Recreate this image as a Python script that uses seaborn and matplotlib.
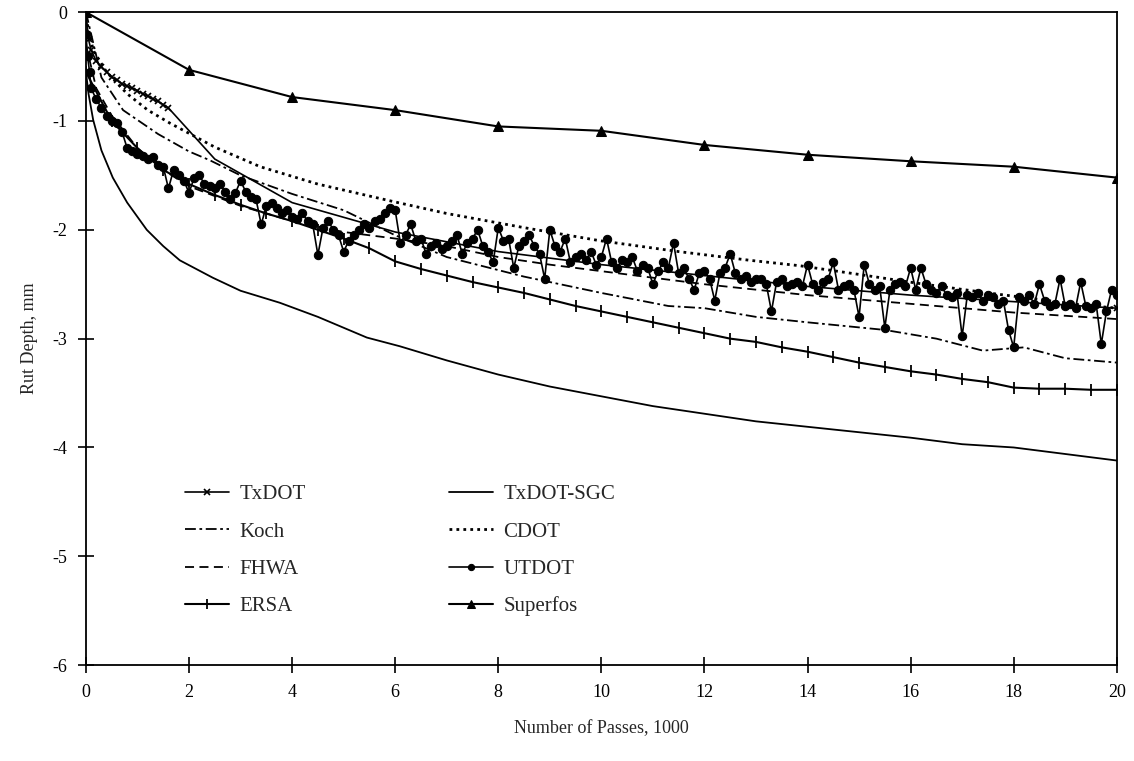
import numpy as np
import pandas as pd
import seaborn as sns
import matplotlib
matplotlib.use("Agg")
import matplotlib.pyplot as plt

# values (x in 1000 passes, rut depth in mm)
superfos_x = [0, 2, 4, 6, 8, 10, 12, 14, 16, 18, 20]
superfos_y = [0, -0.53, -0.78, -0.90, -1.05, -1.09, -1.22, -1.31, -1.37, -1.42, -1.52]

sgc_x = [0, 0.05, 0.14, 0.3, 0.52, 0.8, 1.18, 1.5, 1.82, 2.46, 3.0, 3.76, 4.5, 5.45, 6.09, 7, 8, 9, 10,
         11, 12, 13, 14, 15, 16, 17, 18, 19, 20]
sgc_y = [-0.55, -0.75, -0.99, -1.27, -1.52, -1.75, -2.0, -2.15, -2.28, -2.44, -2.56, -2.67, -2.8, -2.99,
         -3.07, -3.2, -3.33, -3.44, -3.53, -3.62, -3.69, -3.76, -3.81, -3.86, -3.91, -3.97, -4.0, -4.06, -4.12]

ersa_x = [0, 0.5, 1.0, 1.5, 2.0, 2.5, 3.0, 3.5, 4.0, 4.5, 5.0, 5.5, 6.0, 6.5, 7.0, 7.5, 8.0, 8.5, 9.0,
          9.5, 10.0, 10.5, 11.0, 11.5, 12.0, 12.5, 13.0, 13.5, 14.0, 14.5, 15.0, 15.5, 16.0, 16.5, 17.0,
          17.5, 18.0, 18.5, 19.0, 19.5, 20.0]
ersa_y = [-0.55, -1.0, -1.25, -1.45, -1.58, -1.68, -1.77, -1.85, -1.92, -2.0, -2.08, -2.17, -2.29, -2.36,
          -2.42, -2.48, -2.53, -2.58, -2.64, -2.70, -2.75, -2.80, -2.85, -2.90, -2.95, -3.00, -3.03, -3.08,
          -3.12, -3.17, -3.22, -3.26, -3.30, -3.33, -3.37, -3.40, -3.45, -3.46, -3.46, -3.47, -3.47]

cdot_x = [0, 0.14, 0.4, 0.8, 1.2, 1.63, 2.5, 3.38, 4.5, 5.96, 7, 8.5, 9.97, 11.5, 12.88, 13.85, 15, 16.12,
          17.5, 19.34, 20]
cdot_y = [-0.05, -0.35, -0.55, -0.75, -0.9, -1.02, -1.24, -1.42, -1.58, -1.74, -1.85, -1.98, -2.10, -2.2,
          -2.28, -2.33, -2.41, -2.49, -2.58, -2.69, -2.72]

koch_x = [0, 0.3, 0.72, 1.4, 2.0, 2.4, 3.0, 4.0, 5.0, 6.0, 7.0, 8.5, 10.0, 11.3, 12.0, 13.0, 14.0, 15.5,
          16.5, 17.4, 18.2, 19.0, 20.0]
koch_y = [0, -0.6, -0.9, -1.12, -1.28, -1.36, -1.5, -1.67, -1.82, -2.05, -2.25, -2.43, -2.58, -2.7, -2.72,
          -2.8, -2.85, -2.92, -3.0, -3.11, -3.08, -3.18, -3.22]

fhwa_x = [0, 0.2, 0.5, 1.0, 1.5, 2.0, 3.0, 4.0, 5.0, 6.0, 7.0, 8.0, 9.0, 10.0, 11.0, 12.0, 13.0, 14.0,
          15.0, 16.0, 17.0, 18.0, 19.0, 20.0]
fhwa_y = [-0.3, -0.7, -0.95, -1.25, -1.45, -1.6, -1.78, -1.92, -2.02, -2.08, -2.15, -2.25, -2.32, -2.38,
          -2.44, -2.5, -2.55, -2.6, -2.64, -2.68, -2.72, -2.76, -2.79, -2.82]

txdot_x = [0, 0.05, 0.1, 0.2, 0.3, 0.4, 0.5, 0.6, 0.7, 0.8, 0.9, 1.0, 1.1, 1.2, 1.3, 1.4, 1.5, 1.6,
           2.5, 4, 6, 8, 10, 12, 14, 16, 18, 20]
txdot_y = [0, -0.25, -0.35, -0.45, -0.5, -0.55, -0.6, -0.62, -0.66, -0.68, -0.7, -0.72, -0.75, -0.77,
           -0.8, -0.82, -0.85, -0.88, -1.35, -1.75, -2.02, -2.2, -2.32, -2.42, -2.52, -2.6, -2.66, -2.72]

utdot_start_x = [0, 0.03, 0.07]
utdot_start_y = [-0.2, -0.4, -0.55]
# readings every 0.1 thousand passes from 0.1 to 20 (one row per 1000 passes)
utdot_y = [-0.70, -0.80, -0.88, -0.95, -1.00, -1.02, -1.10, -1.25, -1.28, -1.30,
           -1.32, -1.35, -1.33, -1.40, -1.42, -1.62, -1.45, -1.50, -1.55, -1.66,
           -1.52, -1.50, -1.58, -1.60, -1.62, -1.58, -1.65, -1.72, -1.66, -1.55,
           -1.65, -1.70, -1.72, -1.95, -1.78, -1.75, -1.80, -1.85, -1.82, -1.88,
           -1.90, -1.85, -1.92, -1.95, -2.23, -1.98, -1.92, -2.00, -2.05, -2.20,
           -2.10, -2.05, -2.00, -1.95, -1.98, -1.92, -1.90, -1.85, -1.80, -1.82,
           -2.12, -2.05, -1.95, -2.10, -2.08, -2.22, -2.15, -2.12, -2.18, -2.15,
           -2.10, -2.05, -2.22, -2.12, -2.08, -2.00, -2.15, -2.20, -2.30, -1.98,
           -2.10, -2.08, -2.35, -2.15, -2.10, -2.05, -2.15, -2.22, -2.45, -2.00,
           -2.15, -2.20, -2.08, -2.30, -2.25, -2.22, -2.28, -2.20, -2.32, -2.25,
           -2.08, -2.30, -2.35, -2.28, -2.30, -2.25, -2.38, -2.32, -2.35, -2.50,
           -2.38, -2.30, -2.35, -2.12, -2.40, -2.35, -2.45, -2.55, -2.40, -2.38,
           -2.45, -2.65, -2.40, -2.35, -2.22, -2.40, -2.45, -2.42, -2.48, -2.45,
           -2.45, -2.50, -2.75, -2.48, -2.45, -2.52, -2.50, -2.48, -2.52, -2.32,
           -2.50, -2.55, -2.48, -2.45, -2.30, -2.55, -2.52, -2.50, -2.55, -2.80,
           -2.32, -2.50, -2.55, -2.52, -2.90, -2.55, -2.50, -2.48, -2.52, -2.35,
           -2.55, -2.35, -2.50, -2.55, -2.58, -2.52, -2.60, -2.62, -2.58, -2.98,
           -2.60, -2.62, -2.58, -2.65, -2.60, -2.62, -2.68, -2.65, -2.92, -3.08,
           -2.62, -2.65, -2.60, -2.68, -2.50, -2.65, -2.70, -2.68, -2.45, -2.70,
           -2.68, -2.72, -2.48, -2.70, -2.72, -2.68, -3.05, -2.75, -2.55, -2.60]
utdot_x = list(utdot_start_x) + list(np.round(np.linspace(0.1, 20, len(utdot_y)), 2))
utdot_y = list(utdot_start_y) + utdot_y

sns.set_style("ticks")
plt.rcParams['font.family'] = ['Liberation Serif', 'DejaVu Serif']
plt.rcParams['axes.linewidth'] = 1.3
plt.rcParams['axes.unicode_minus'] = False

fig = plt.figure(figsize=(11.34, 7.61), dpi=100)
ax = fig.add_axes([0.0758, 0.126, 0.909, 0.858])

k = 'black'
common = dict(ax=ax, color=k, estimator=None, sort=False)
sns.lineplot(x=txdot_x, y=txdot_y, lw=1.2, marker='x', ms=5, mew=1.2, mec=k,
             markevery=list(range(18)) + [27], label='TxDOT', **common)
sns.lineplot(x=koch_x, y=koch_y, lw=1.3, linestyle=(0, (6, 2, 1.5, 2)), label='Koch', **common)
sns.lineplot(x=fhwa_x, y=fhwa_y, lw=1.3, linestyle=(0, (5, 3)), label='FHWA', **common)
sns.lineplot(x=ersa_x, y=ersa_y, lw=1.5, marker='|', ms=9, mew=1.3, mec=k, label='ERSA', **common)
sns.lineplot(x=sgc_x, y=sgc_y, lw=1.3, label='TxDOT-SGC', **common)
sns.lineplot(x=cdot_x, y=cdot_y, lw=2.0, linestyle=(0, (1, 1.5)), label='CDOT', **common)
sns.lineplot(x=utdot_x, y=utdot_y, lw=1.2, marker='o', ms=6, mec=k, label='UTDOT', **common)
sns.lineplot(x=superfos_x, y=superfos_y, lw=1.5, marker='^', ms=7, mec=k, label='Superfos', **common)

ax.set_xlim(0, 20)
ax.set_ylim(-6, 0)
ax.set_xticks(range(0, 21, 2))
ax.set_yticks(range(-6, 1))
ax.tick_params(direction='inout', length=11, width=1.2, labelsize=13, colors='black', pad=8)
ax.set_xlabel('Number of Passes, 1000', fontsize=13, labelpad=14)
ax.set_ylabel('Rut Depth, mm', fontsize=13, labelpad=10)
for s in ax.spines.values():
    s.set_visible(True)
    s.set_color('black')

ax.legend(loc='upper left', bbox_to_anchor=(0.078, 0.305), ncol=2, frameon=False, fontsize=15,
          labelspacing=0.85, columnspacing=6.9, handlelength=2.1, handletextpad=0.5,
          markerscale=0.75)

fig.savefig('out.png', dpi=100)
